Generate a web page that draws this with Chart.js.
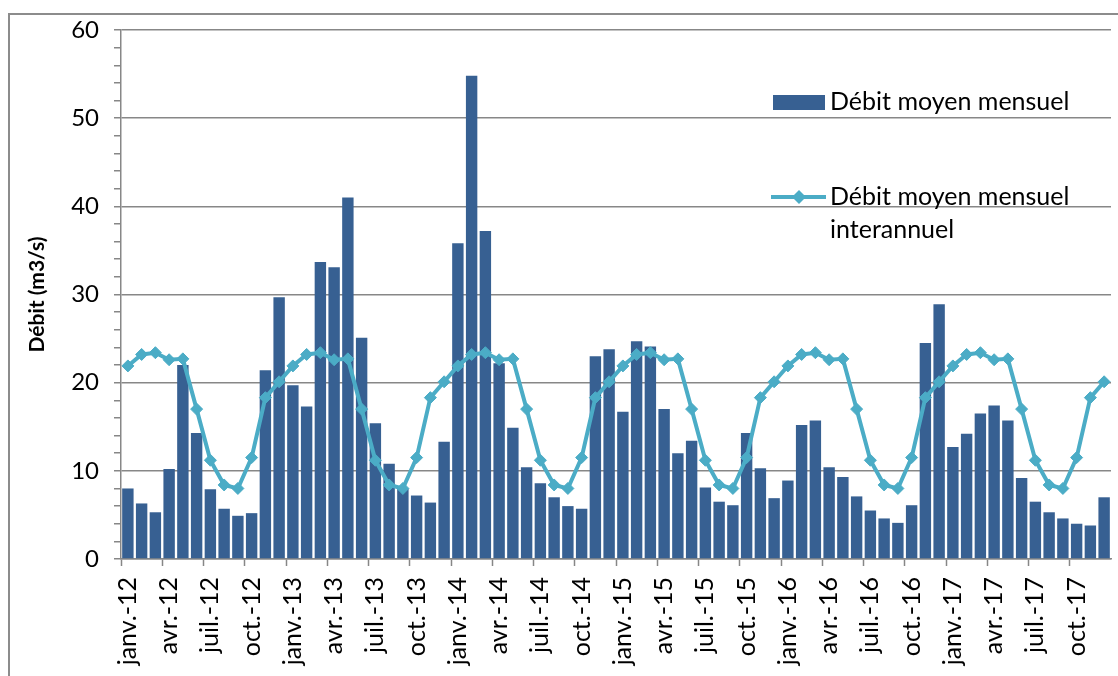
<!DOCTYPE html>
<html>
<head>
<meta charset="utf-8">
<script src="https://cdn.jsdelivr.net/npm/chart.js@4.4.1/dist/chart.umd.min.js"></script>
<style>
  html, body { margin: 0; padding: 0; background: #fff; overflow: hidden; }
  #wrap { position: relative; width: 1118px; height: 676px; }
</style>
</head>
<body>
<div id="wrap"><canvas id="c" width="1118" height="676"></canvas></div>
<script>
// ---- data ----
const monthNames = ['janv.', 'févr.', 'mars', 'avr.', 'mai', 'juin', 'juil.', 'août', 'sept.', 'oct.', 'nov.', 'déc.'];
const years = ['12', '13', '14', '15', '16', '17'];
const categories = years.flatMap(y => monthNames.map(m => m + '-' + y));

const debitMoyenMensuel = [
  8.0, 6.3, 5.3, 10.2, 22.0, 14.3, 7.9, 5.7, 4.9, 5.2, 21.4, 29.7,
  19.7, 17.3, 33.7, 33.1, 41.0, 25.1, 15.4, 10.8, 8.0, 7.2, 6.4, 13.3,
  35.8, 54.8, 37.2, 22.2, 14.9, 10.4, 8.6, 7.0, 6.0, 5.7, 23.0, 23.8,
  16.7, 24.7, 24.1, 17.0, 12.0, 13.4, 8.1, 6.5, 6.1, 14.3, 10.3, 6.9,
  8.9, 15.2, 15.7, 10.4, 9.3, 7.1, 5.5, 4.6, 4.1, 6.1, 24.5, 28.9,
  12.7, 14.2, 16.5, 17.4, 15.7, 9.2, 6.5, 5.3, 4.6, 4.0, 3.8, 7.0
];

const debitInterannuel = [
  21.9, 23.2, 23.4, 22.6, 22.7, 17.0, 11.2, 8.4, 8.0, 11.5, 18.3, 20.1,
  21.9, 23.2, 23.4, 22.6, 22.7, 17.0, 11.2, 8.4, 8.0, 11.5, 18.3, 20.1,
  21.9, 23.2, 23.4, 22.6, 22.7, 17.0, 11.2, 8.4, 8.0, 11.5, 18.3, 20.1,
  21.9, 23.2, 23.4, 22.6, 22.7, 17.0, 11.2, 8.4, 8.0, 11.5, 18.3, 20.1,
  21.9, 23.2, 23.4, 22.6, 22.7, 17.0, 11.2, 8.4, 8.0, 11.5, 18.3, 20.1,
  21.9, 23.2, 23.4, 22.6, 22.7, 17.0, 11.2, 8.4, 8.0, 11.5, 18.3, 20.1
];

const yMin = 0, yMax = 60, yMajorStep = 10, yMinorStep = 2;
const xLabelEvery = 3;
const seriesNames = ['Débit moyen mensuel', ['Débit moyen mensuel', 'interannuel']];
const yTitle = 'Débit (m3/s)';

// ---- styles ----
const FONT = 'Lato, "Open Sans", sans-serif';
const GRAY = '#878787';
const BAR = '#376092';
const LINE = '#4bacc6';

const framePlugin = {
  id: 'frame',
  beforeDraw(chart) {
    const ctx = chart.ctx;
    ctx.save();
    ctx.strokeStyle = '#8c8c8c';
    ctx.lineWidth = 2;
    ctx.beginPath();
    ctx.moveTo(9, chart.height);
    ctx.lineTo(9, 14);
    ctx.lineTo(chart.width, 14);
    ctx.stroke();
    ctx.restore();
  }
};

const legendPlugin = {
  id: 'inlegend',
  afterDraw(chart) {
    const ctx = chart.ctx;
    const ds = chart.data.datasets;
    ctx.save();
    ctx.font = '25px ' + FONT;
    ctx.textBaseline = 'alphabetic';
    ctx.textAlign = 'left';
    // bar entry
    ctx.fillStyle = ds[1].backgroundColor;
    ctx.fillRect(773, 95, 52, 15);
    ctx.fillStyle = '#000';
    [].concat(ds[1].label).forEach((t, i) => ctx.fillText(t, 830, 110 + i * 33));
    // line entry
    ctx.strokeStyle = ds[0].borderColor;
    ctx.lineWidth = 4;
    ctx.beginPath();
    ctx.moveTo(771, 197);
    ctx.lineTo(826, 197);
    ctx.stroke();
    ctx.fillStyle = ds[0].borderColor;
    ctx.beginPath();
    ctx.moveTo(799, 190); ctx.lineTo(806, 197); ctx.lineTo(799, 204); ctx.lineTo(792, 197);
    ctx.closePath();
    ctx.fill();
    ctx.fillStyle = '#000';
    [].concat(ds[0].label).forEach((t, i) => ctx.fillText(t, 830, 205 + i * 33));
    ctx.restore();
  }
};

new Chart(document.getElementById('c'), {
  type: 'bar',
  data: {
    labels: categories,
    datasets: [
      {
        type: 'line',
        label: seriesNames[1],
        data: debitInterannuel,
        borderColor: LINE,
        backgroundColor: LINE,
        borderWidth: 4,
        pointStyle: 'rectRot',
        pointRadius: 6,
        pointBackgroundColor: LINE,
        pointBorderColor: LINE,
        pointBorderWidth: 1,
        tension: 0,
        order: 0
      },
      {
        type: 'bar',
        label: seriesNames[0],
        data: debitMoyenMensuel,
        backgroundColor: BAR,
        borderWidth: 0,
        categoryPercentage: 1.0,
        barPercentage: 0.83,
        order: 1
      }
    ]
  },
  options: {
    responsive: false,
    animation: false,
    devicePixelRatio: 1,
    layout: { padding: { top: 30, left: 0, right: 1, bottom: 0 } },
    plugins: {
      legend: { display: false },
      tooltip: { enabled: false },
      title: { display: false }
    },
    scales: {
      x: {
        type: 'category',
        offset: true,
        grid: {
          offset: true,
          drawOnChartArea: false,
          drawTicks: true,
          tickLength: 7,
          tickWidth: 1.5,
          tickColor: (ctx) => (ctx.index % xLabelEvery === 0 ? GRAY : 'rgba(0,0,0,0)')
        },
        border: { display: true, color: GRAY, width: 1.5 },
        ticks: {
          autoSkip: false,
          maxRotation: 90,
          minRotation: 90,
          padding: 11,
          color: '#000',
          font: { family: FONT, size: 25 },
          callback: function (val, idx) { return idx % xLabelEvery === 0 ? categories[idx] : ''; }
        },
        afterFit(scale) { scale.height = 117; scale.paddingLeft = 0; scale.paddingRight = 0; }
      },
      y: {
        min: yMin,
        max: yMax,
        grid: {
          drawTicks: true,
          tickLength: 7,
          tickWidth: 1.5,
          tickColor: GRAY,
          lineWidth: 1.5,
          color: (ctx) => (ctx.tick && ctx.tick.value % yMajorStep === 0 ? GRAY : 'rgba(0,0,0,0)')
        },
        border: { display: true, color: GRAY, width: 1.5 },
        ticks: {
          stepSize: yMinorStep,
          autoSkip: false,
          padding: 15,
          color: '#000',
          font: { family: FONT, size: 24 },
          callback: (v) => (v % yMajorStep === 0 ? String(v) : '')
        },
        title: {
          display: true,
          text: yTitle,
          color: '#000',
          font: { family: FONT, size: 21, weight: 'bold' },
          padding: { top: 25, bottom: 0 }
        },
        afterFit(scale) { scale.width = 121; }
      }
    }
  },
  plugins: [framePlugin, legendPlugin]
});
</script>
</body>
</html>
